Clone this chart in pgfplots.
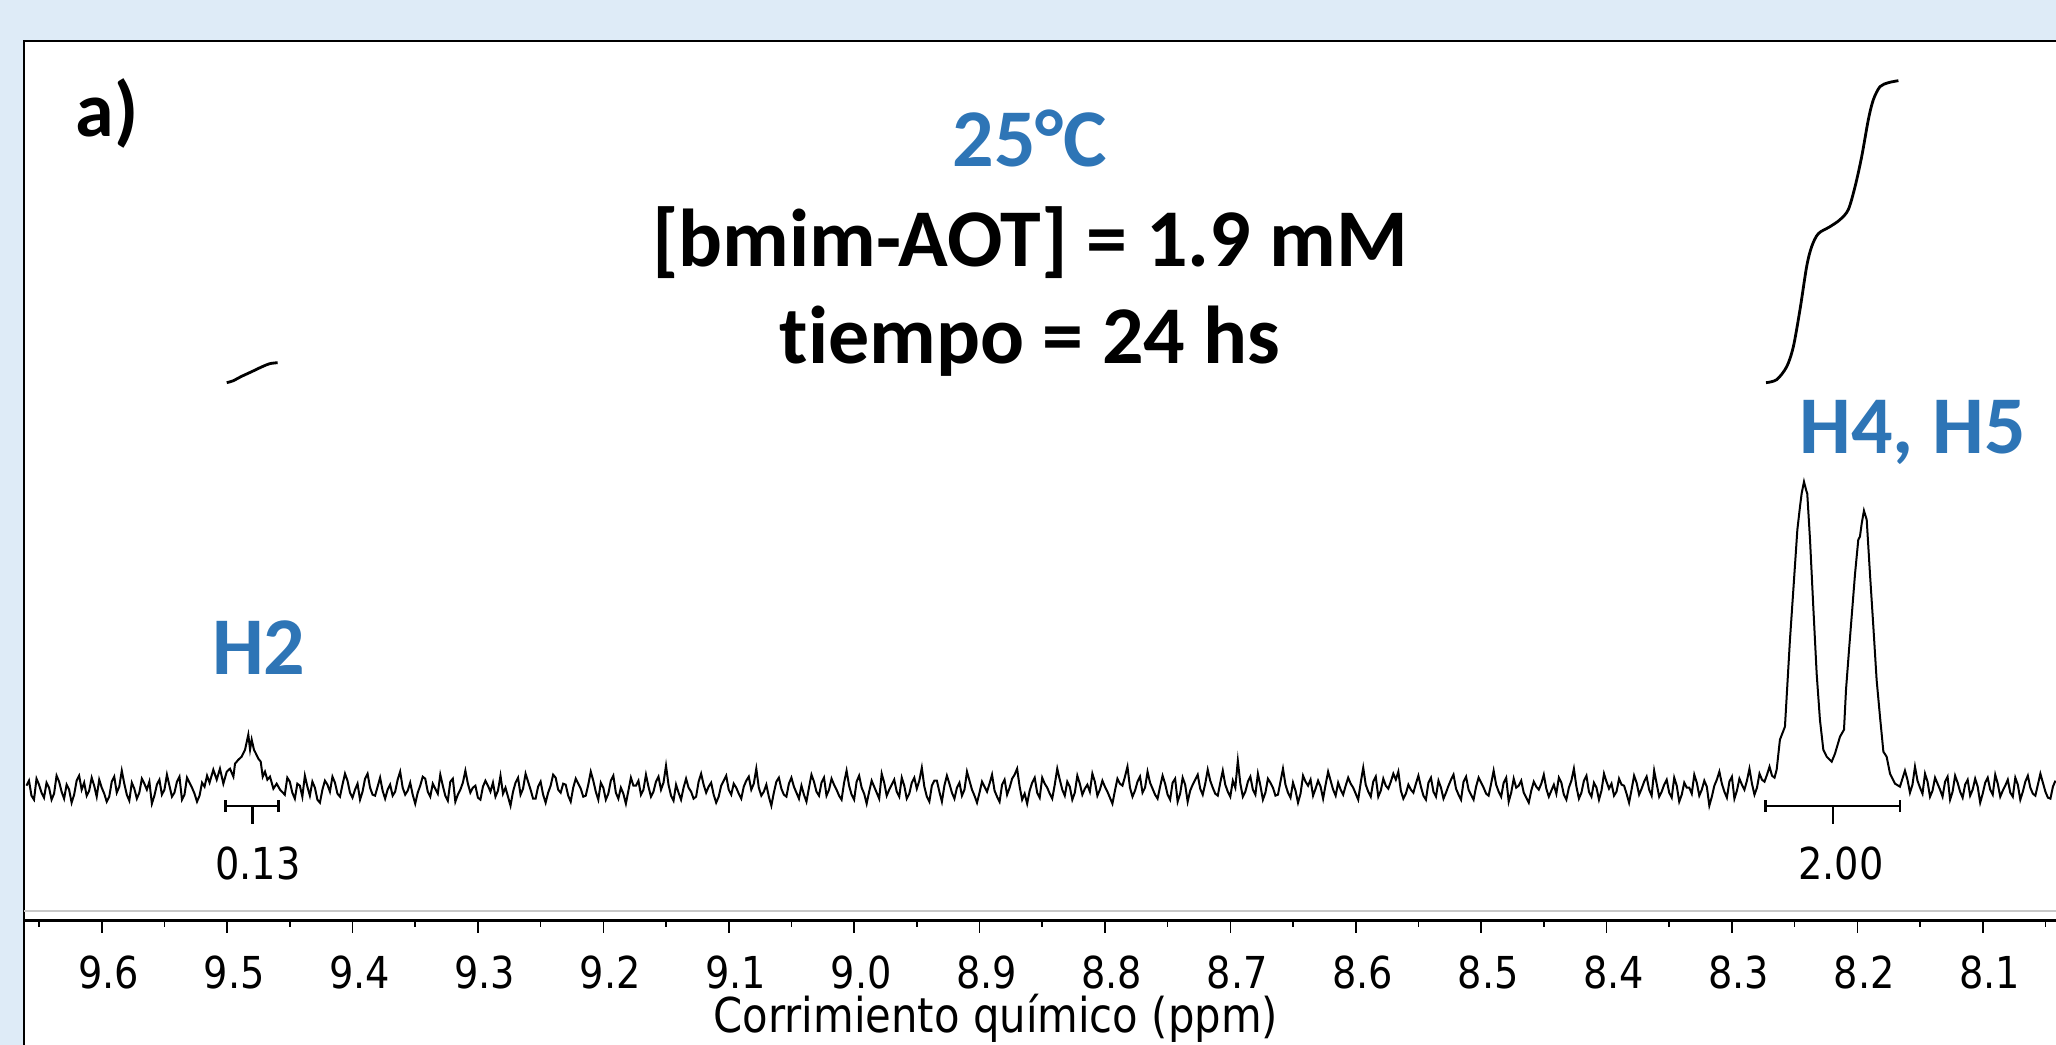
\documentclass[border=0pt]{standalone}
\usepackage{pgfplots}
\pgfplotsset{compat=1.18}
\usepackage{fontspec}
\setmainfont{Carlito}[Ligatures=NoCommon]
\newfontfamily\tah[FakeStretch=0.87]{DejaVu Sans}
\definecolor{bgblue}{HTML}{DEEBF7}
\definecolor{hblue}{HTML}{2E75B6}
\definecolor{grayline}{HTML}{C8C8C8}
\newcommand{\bigf}{\fontsize{20.5}{24}\selectfont\bfseries}
\newcommand{\axf}{\tah\fontsize{11}{13}\selectfont}
\begin{document}
\begin{tikzpicture}[x=1pt,y=1pt]
\fill[bgblue] (-6,-31.075) rectangle (508,230.175);
\fill[white] (0,-40) rectangle (520,220);
\draw[line width=0.5pt] (0,-40) -- (0,220) -- (520,220);
\begin{axis}[at={(0,0)}, anchor=south west, scale only axis,
  width=508pt, height=220pt,
  xmin=8.04155, xmax=9.662, ymin=0, ymax=880, x dir=reverse,
  axis x line*=bottom, axis y line=none, clip=false,
  axis line style={line width=0.6pt},
  xtick={8.1,8.2,8.3,8.4,8.5,8.6,8.7,8.8,8.9,9.0,9.1,9.2,9.3,9.4,9.5,9.6},
  minor xtick={8.05,8.15,8.25,8.35,8.45,8.55,8.65,8.75,8.85,8.95,9.05,9.15,9.25,9.35,9.45,9.55,9.65},
  tick align=outside, major tick length=3pt, minor tick length=1.5pt,
  every tick/.style={line width=0.4pt, black},
  xticklabel style={font=\axf, anchor=base, yshift=-13.9pt, xshift=1.75pt},
  /pgf/number format/.cd, fixed, fixed zerofill, precision=1, assume math mode=true,
]
% spectrum
\addplot[line width=0.5pt, black] coordinates {
(9.660,135) (9.658,140) (9.656,125) (9.654,121) (9.652,142) (9.650,136) (9.648,128) (9.646,123) (9.644,138) (9.642,133)
(9.640,121) (9.638,127) (9.636,145) (9.634,139) (9.632,129) (9.630,122) (9.628,136) (9.626,131) (9.624,118) (9.622,126)
(9.620,140) (9.618,145) (9.616,131) (9.614,138) (9.612,125) (9.610,130) (9.608,143) (9.606,135) (9.604,124) (9.602,141)
(9.600,133) (9.598,127) (9.596,119) (9.594,124) (9.592,139) (9.590,144) (9.588,128) (9.586,134) (9.584,150) (9.582,137)
(9.580,126) (9.578,120) (9.576,138) (9.574,132) (9.572,122) (9.570,128) (9.568,142) (9.566,137) (9.564,131) (9.562,139)
(9.560,117) (9.558,125) (9.556,136) (9.554,141) (9.552,126) (9.550,131) (9.548,146) (9.546,135) (9.544,124) (9.542,128)
(9.540,139) (9.538,144) (9.536,121) (9.534,126) (9.532,143) (9.530,138) (9.528,133) (9.526,127) (9.524,119) (9.522,125)
(9.520,138) (9.518,134) (9.516,145) (9.514,138)
(9.5110,151) (9.5083,141) (9.5057,152) (9.5030,137) (9.5003,149) (9.4977,152) (9.4950,144) (9.4937,157) (9.4910,161)
(9.4884,164) (9.4857,171) (9.4831,186) (9.4817,171) (9.4804,181) (9.4786,171) (9.4770,167) (9.4751,162) (9.4732,159)
(9.4716,144) (9.4698,149) (9.4679,141) (9.4658,144) (9.4631,132) (9.4605,137) (9.4578,131)
(9.454,126) (9.452,143) (9.450,139) (9.448,128) (9.446,122) (9.444,137) (9.442,135) (9.440,124) (9.438,145) (9.436,134) (9.434,125) (9.432,139) (9.430,133) (9.428,121) (9.426,118) (9.424,131) (9.422,140) (9.420,136) (9.418,129) (9.416,144)
(9.414,138) (9.412,127) (9.410,124) (9.408,136) (9.406,147) (9.404,140) (9.402,128) (9.400,123) (9.398,131) (9.396,137) (9.394,121) (9.392,129) (9.390,142) (9.388,147) (9.386,133) (9.384,126) (9.382,125) (9.380,134) (9.378,143) (9.376,130)
(9.374,122) (9.372,131) (9.370,136) (9.368,125) (9.366,129) (9.364,141) (9.362,149) (9.360,133) (9.358,126) (9.356,130) (9.354,138) (9.352,126) (9.350,117) (9.348,128) (9.346,135) (9.344,144) (9.342,142) (9.340,129) (9.338,124) (9.336,137)
(9.334,132) (9.332,127) (9.330,146) (9.328,135) (9.326,125) (9.324,120) (9.322,139) (9.320,142) (9.318,119) (9.316,126) (9.314,131) (9.312,138) (9.310,150) (9.308,137) (9.306,128) (9.304,133) (9.302,135) (9.300,123) (9.298,121) (9.296,134)
(9.294,140) (9.292,135) (9.290,129) (9.288,138) (9.286,124) (9.284,130) (9.282,145) (9.280,127) (9.278,133) (9.276,124) (9.274,115) (9.272,129) (9.270,138) (9.268,143) (9.266,126) (9.264,132) (9.262,147) (9.260,139) (9.258,131) (9.256,122)
(9.254,122) (9.252,134) (9.250,139) (9.248,126) (9.246,118) (9.244,128) (9.242,135) (9.240,146) (9.238,143) (9.236,131) (9.234,128) (9.232,137) (9.230,136) (9.228,125) (9.226,119) (9.224,133) (9.222,142) (9.220,137) (9.218,132) (9.216,124)
(9.214,125) (9.212,136) (9.210,149) (9.208,140) (9.206,129) (9.204,121) (9.202,138) (9.200,133) (9.198,121) (9.196,127) (9.194,140) (9.192,145) (9.190,128) (9.188,122) (9.186,133) (9.184,127) (9.182,117) (9.180,130) (9.178,143) (9.176,135)
(9.174,135) (9.172,140) (9.170,126) (9.168,131) (9.166,146) (9.164,134) (9.162,124) (9.160,129) (9.158,139) (9.156,144) (9.154,131) (9.152,138) (9.150,155) (9.148,136) (9.146,125) (9.144,120) (9.142,136) (9.140,128) (9.138,121) (9.136,133)
(9.134,142) (9.132,133) (9.130,129) (9.128,122) (9.126,124) (9.124,139) (9.122,147) (9.120,136) (9.118,128) (9.116,134) (9.114,138) (9.112,126) (9.110,118) (9.108,124) (9.106,135) (9.104,140) (9.102,145) (9.100,131) (9.098,126) (9.096,137)
(9.094,133) (9.092,127) (9.090,122) (9.088,134) (9.086,140) (9.084,144) (9.082,131) (9.080,137) (9.078,152) (9.076,133) (9.074,125) (9.072,129) (9.070,136) (9.068,124) (9.066,115) (9.064,128) (9.062,139) (9.060,143) (9.058,132) (9.056,126)
(9.054,124) (9.052,137) (9.050,143) (9.048,134) (9.046,128) (9.044,122) (9.042,135) (9.040,126) (9.038,119) (9.036,133) (9.034,146) (9.032,139) (9.030,129) (9.028,125) (9.026,138) (9.024,143) (9.022,125) (9.020,131) (9.018,142) (9.016,136)
(9.014,131) (9.012,125) (9.010,121) (9.008,138) (9.006,150) (9.004,135) (9.002,126) (9.000,121) (8.998,139) (8.996,145) (8.994,133) (8.992,127) (8.990,117) (8.988,129) (8.986,140) (8.984,134) (8.982,128) (8.980,122) (8.978,147) (8.976,138)
(8.974,125) (8.972,131) (8.970,136) (8.968,141) (8.966,129) (8.964,124) (8.962,143) (8.960,135) (8.958,122) (8.956,127) (8.954,138) (8.952,143) (8.950,132) (8.948,140) (8.946,153) (8.944,134) (8.942,124) (8.940,119) (8.938,135) (8.936,140)
(8.934,140) (8.932,129) (8.930,119) (8.928,135) (8.926,145) (8.924,137) (8.922,128) (8.920,122) (8.918,133) (8.916,138) (8.914,125) (8.912,131) (8.910,149) (8.908,140) (8.906,131) (8.904,125) (8.902,118) (8.900,128) (8.898,139) (8.896,134)
(8.894,129) (8.892,137) (8.890,146) (8.888,130) (8.886,124) (8.884,119) (8.882,136) (8.880,141) (8.878,126) (8.876,133) (8.874,142) (8.872,146) (8.870,152) (8.868,134) (8.866,121) (8.864,127) (8.862,117) (8.860,130) (8.858,138) (8.856,143)
(8.854,128) (8.852,123) (8.850,143) (8.848,137) (8.846,133) (8.844,127) (8.842,122) (8.840,136) (8.838,152) (8.836,141) (8.834,131) (8.832,125) (8.830,139) (8.828,134) (8.826,121) (8.824,128) (8.822,145) (8.820,137) (8.818,126) (8.816,132)
(8.814,136) (8.812,129) (8.810,147) (8.808,139) (8.806,125) (8.804,131) (8.802,140) (8.800,134) (8.798,129) (8.796,123) (8.794,117) (8.792,130) (8.790,142) (8.788,137) (8.786,135) (8.784,144) (8.782,154) (8.780,133) (8.778,124) (8.776,130)
(8.774,139) (8.772,144) (8.770,128) (8.768,133) (8.766,149) (8.764,138) (8.762,132) (8.760,126) (8.758,122) (8.756,134) (8.754,145) (8.752,137) (8.750,126) (8.748,121) (8.746,138) (8.744,142) (8.742,119) (8.740,127) (8.738,143) (8.736,136)
(8.734,119) (8.732,130) (8.730,136) (8.728,141) (8.726,146) (8.724,132) (8.722,126) (8.720,137) (8.718,151) (8.716,140) (8.714,133) (8.712,127) (8.710,125) (8.708,138) (8.706,150) (8.704,136) (8.702,129) (8.700,124) (8.698,140) (8.696,133)
(8.694,160) (8.692,137) (8.690,124) (8.688,129) (8.686,139) (8.684,144) (8.682,131) (8.680,126) (8.678,147) (8.676,135) (8.674,121) (8.672,128) (8.670,142) (8.668,138) (8.666,133) (8.664,125) (8.662,126) (8.660,139) (8.658,152) (8.656,136)
(8.654,128) (8.652,123) (8.650,138) (8.648,130) (8.646,118) (8.644,127) (8.642,145) (8.640,139) (8.638,135) (8.636,141) (8.634,125) (8.632,132) (8.630,140) (8.628,134) (8.626,122) (8.624,136) (8.622,149) (8.620,140) (8.618,131) (8.616,125)
(8.614,138) (8.612,131) (8.610,126) (8.608,135) (8.606,143) (8.604,137) (8.602,133) (8.600,127) (8.598,121) (8.596,138) (8.594,153) (8.592,136) (8.590,129) (8.588,124) (8.586,139) (8.584,144) (8.582,124) (8.580,130) (8.578,142) (8.576,135)
(8.574,132) (8.572,139) (8.570,147) (8.568,141) (8.566,149) (8.564,130) (8.562,122) (8.560,127) (8.558,136) (8.556,131) (8.554,128) (8.552,137) (8.550,145) (8.548,134) (8.546,125) (8.544,121) (8.542,138) (8.540,143) (8.538,129) (8.536,124)
(8.534,140) (8.532,133) (8.530,122) (8.528,128) (8.526,135) (8.524,141) (8.522,146) (8.520,132) (8.518,126) (8.516,121) (8.514,139) (8.512,144) (8.510,131) (8.508,126) (8.506,121) (8.504,134) (8.502,143) (8.500,138) (8.498,133) (8.496,127)
(8.494,125) (8.492,137) (8.490,150) (8.488,136) (8.486,129) (8.484,124) (8.482,138) (8.480,143) (8.478,119) (8.476,128) (8.474,142) (8.472,133) (8.470,135) (8.468,140) (8.466,128) (8.464,123) (8.462,118) (8.460,130) (8.458,139) (8.456,134)
(8.454,131) (8.452,137) (8.450,146) (8.448,132) (8.446,124) (8.444,130) (8.442,136) (8.440,127) (8.438,143) (8.436,138) (8.434,126) (8.432,121) (8.430,133) (8.428,140) (8.426,152) (8.424,134) (8.422,122) (8.420,128) (8.418,140) (8.416,145)
(8.414,129) (8.412,124) (8.410,138) (8.408,133) (8.406,121) (8.404,130) (8.402,147) (8.400,139) (8.398,132) (8.396,137) (8.394,125) (8.392,129) (8.390,142) (8.388,136) (8.386,135) (8.384,127) (8.382,118) (8.380,131) (8.378,145) (8.376,138)
(8.374,126) (8.372,132) (8.370,139) (8.368,144) (8.366,131) (8.364,125) (8.362,150) (8.360,137) (8.358,124) (8.356,129) (8.354,136) (8.352,141) (8.350,128) (8.348,123) (8.346,143) (8.344,135) (8.342,119) (8.340,126) (8.338,138) (8.336,133)
(8.334,133) (8.332,127) (8.330,146) (8.328,138) (8.326,125) (8.324,131) (8.322,140) (8.320,134) (8.318,115) (8.316,124) (8.314,135) (8.312,141) (8.310,149) (8.308,137) (8.306,129) (8.304,123) (8.302,139) (8.300,144) (8.298,122) (8.296,130)
(8.294,142) (8.292,136) (8.290,131) (8.288,140) (8.286,152) (8.284,137) (8.282,126) (8.280,133) (8.278,147) (8.276,141) (8.274,139) (8.272,146) (8.270,154) (8.268,145) (8.266,143)
(8.2643,151) (8.2617,181) (8.2577,194) (8.2537,281) (8.2510,331) (8.2478,391) (8.2457,414) (8.2444,427) (8.2425,439)
(8.2409,431) (8.2399,427) (8.2377,381) (8.2351,314) (8.2324,247) (8.2298,201) (8.2271,171) (8.2244,164) (8.2204,159)
(8.2178,167) (8.2138,184) (8.2106,191) (8.2090,231) (8.2064,274) (8.2045,304) (8.2018,347) (8.1992,381) (8.1979,384)
(8.1965,397) (8.1947,410) (8.1925,401) (8.1899,347) (8.1872,294) (8.1846,241) (8.1819,204) (8.1792,169) (8.1766,164)
(8.1739,147) (8.1699,137) (8.1660,134)
(8.162,150) (8.160,141) (8.158,128) (8.156,136) (8.154,154) (8.152,140) (8.150,133) (8.148,127) (8.146,147) (8.144,139) (8.142,124) (8.140,130) (8.138,143) (8.136,137) (8.134,131) (8.132,124) (8.130,139) (8.128,144) (8.126,121) (8.124,129)
(8.122,145) (8.120,138) (8.118,129) (8.116,123) (8.114,136) (8.112,141) (8.110,125) (8.108,131) (8.106,142) (8.104,134) (8.102,118) (8.100,127) (8.098,138) (8.096,143) (8.094,131) (8.092,126) (8.090,146) (8.088,137) (8.086,124) (8.084,130)
(8.082,135) (8.080,141) (8.078,128) (8.076,124) (8.074,143) (8.072,136) (8.070,121) (8.068,129) (8.066,139) (8.064,145) (8.062,133) (8.060,127) (8.058,125) (8.056,136) (8.054,147) (8.052,138) (8.050,129) (8.048,123) (8.046,122) (8.044,134) (8.042,140)
};
% integral curves
\addplot[smooth, line width=0.7pt, black] coordinates {
(9.5003,538) (9.4950,540) (9.4890,544) (9.4804,549) (9.4720,554) (9.4660,557) (9.4597,558)};
\addplot[smooth, line width=0.7pt, black] coordinates {
(8.2728,538) (8.2643,541) (8.2563,554) (8.2510,574) (8.2457,611) (8.2404,654) (8.2364,674) (8.2311,687)
(8.2218,694) (8.2138,701) (8.2072,711) (8.2018,734) (8.1965,764) (8.1912,801) (8.1872,821) (8.1819,834)
(8.1752,838) (8.1672,840)};
% baseline reference line
\draw[grayline, line width=0.5pt] (axis cs:9.662,10) -- (axis cs:8.04155,10);
% integral bars
\draw[line width=0.7pt] (axis cs:9.5011,114.7) -- (axis cs:9.4592,114.7);
\draw[line width=0.7pt] (axis cs:9.5011,108.5) -- (axis cs:9.5011,121);
\draw[line width=0.7pt] (axis cs:9.4592,108.5) -- (axis cs:9.4592,121);
\draw[line width=0.7pt] (axis cs:9.4796,114.7) -- (axis cs:9.4796,96.7);
\draw[line width=0.7pt] (axis cs:8.2730,114.7) -- (axis cs:8.1660,114.7);
\draw[line width=0.7pt] (axis cs:8.2730,108.5) -- (axis cs:8.2730,121);
\draw[line width=0.7pt] (axis cs:8.1660,108.5) -- (axis cs:8.1660,121);
\draw[line width=0.7pt] (axis cs:8.2194,114.7) -- (axis cs:8.2194,96.7);
\node[anchor=base, font=\axf, inner sep=0pt] at (axis cs:9.4753,40.7) {0.13};
\node[anchor=base, font=\axf, inner sep=0pt] at (axis cs:8.2130,40.7) {2.00};
% texts
\node[anchor=base west, inner sep=0pt, font=\fontsize{19.5}{23}\selectfont\bfseries] at (axis cs:9.6213,784) {a)};
\node[anchor=base, inner sep=0pt, font=\bigf, text=hblue] at (axis cs:8.8597,754) {25°C};
\node[anchor=base, inner sep=0pt, font=\bigf] at (axis cs:8.8597,654) {[bmim-AOT] = 1.9 mM};
\node[anchor=base, inner sep=0pt, font=\bigf] at (axis cs:8.8597,557.4) {tiempo = 24 hs};
\node[anchor=base, inner sep=0pt, font=\bigf, text=hblue] at (axis cs:9.4747,245.7) {H2};
\node[anchor=base, inner sep=0pt, font=\bigf, text=hblue] at (axis cs:8.156,467.2) {H4, H5};
\node[anchor=base, inner sep=0pt, font=\tah\fontsize{12}{14}\selectfont] at (axis cs:8.887,-112.3) {Corrimiento químico (ppm)};
\end{axis}
\pgfresetboundingbox
\path[use as bounding box] (-6,-31.075) rectangle (508,230.175);
\end{tikzpicture}
\end{document}
